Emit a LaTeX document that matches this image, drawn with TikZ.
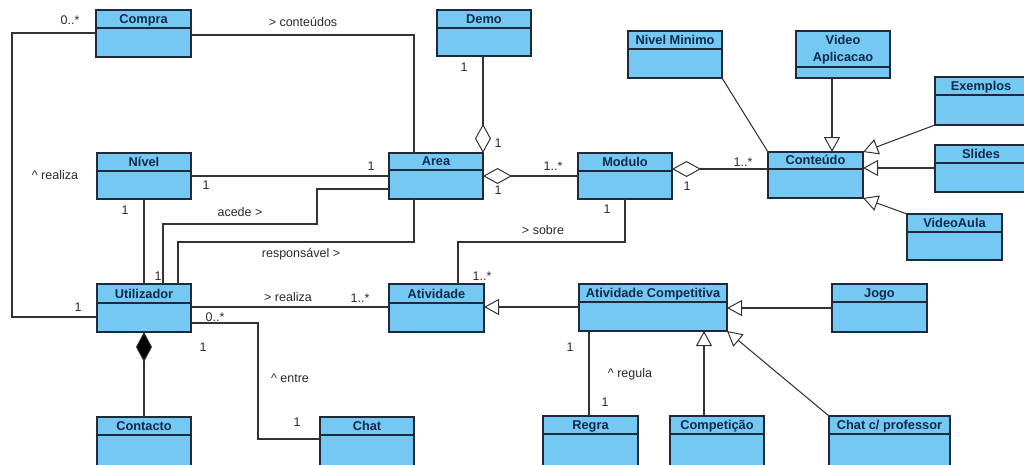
\documentclass[tikz,border=0pt]{standalone}
\usepackage{fontspec}
\setmainfont{Liberation Sans}
\usetikzlibrary{arrows.meta}

\definecolor{boxfill}{HTML}{75C8F2}
\definecolor{boxline}{HTML}{1E2A3A}
\definecolor{titletext}{HTML}{102A4C}
\definecolor{labeltext}{HTML}{2A2A2A}
\definecolor{wire}{HTML}{333333}

\tikzset{
  clsbox/.style={draw=boxline, fill=boxfill, line width=1.2pt, inner sep=0pt,
    outer sep=0pt, anchor=north west},
  divline/.style={draw=boxline, line width=1.2pt},
  clstitle/.style={font=\bfseries\fontsize{12.8}{17}\selectfont, text=titletext,
    inner sep=0pt},
  lbl/.style={font=\fontsize{12.5}{14}\selectfont, text=labeltext, inner sep=0pt},
  conn/.style={draw=wire, line width=1.05pt},
  genarrow/.style={conn, -{Triangle[length=15pt, width=16pt, fill=white, line width=1pt]}},
  aggstart/.style={conn, {Diamond[length=29pt, width=16pt, fill=white, line width=1pt]}-},
  compstart/.style={conn, {Diamond[length=30pt, width=16pt, fill=black, line width=1pt]}-},
}

% class box: name, left, top, right, bottom, divider, title
\newcommand\umlclass[7]{%
  \node[clsbox, minimum width={#4-#2}, minimum height={#5-#3}] (#1) at (#2,#3) {};
  \draw[divline] (#2,#6) -- (#4,#6);
  \node[clstitle, anchor=base] (#1-name) at ({(#2+#4)/2},{#6-4.5}) {#7};
}

\begin{document}
\begin{tikzpicture}[x=1pt,y=-1pt]
\useasboundingbox (0,0) rectangle (1024,464);
\fill[white] (0,0) rectangle (1024,464);

% ---- classes ----
\umlclass{compra}{96}{10}{191}{57}{28}{Compra}
\umlclass{demo}{437}{10}{531}{56}{28}{Demo}
\umlclass{nivmin}{628}{31}{722}{78}{49}{Nivel Minimo}
% two-line title
\node[clsbox, minimum width=94, minimum height=47] (videoapp) at (796,31) {};
\draw[divline] (796,67) -- (890,67);
\node[clstitle, align=center] (videoapp-name) at (843,50) {Video\\Aplicacao};
\umlclass{exemplos}{935}{77}{1027}{125}{95}{Exemplos}
\umlclass{slides}{935}{145}{1027}{192}{163}{Slides}
\umlclass{nivel}{97}{153}{191}{199}{171}{Nível}
\umlclass{area}{389}{153}{483}{199}{170}{Area}
\umlclass{modulo}{578}{153}{672}{199}{171}{Modulo}
\umlclass{conteudo}{768}{152}{863}{198}{169}{Conteúdo}
\umlclass{videoaula}{907}{214}{1002}{260}{232}{VideoAula}
\umlclass{utilizador}{97}{284}{191}{332}{303}{Utilizador}
\umlclass{atividade}{389}{284}{484}{332}{303}{Atividade}
\umlclass{ativcomp}{579}{284}{727}{331}{302}{Atividade Competitiva}
\umlclass{jogo}{832}{284}{927}{332}{302}{Jogo}
\umlclass{contacto}{97}{417}{191}{467}{435}{Contacto}
\umlclass{chat}{320}{417}{414}{467}{435}{Chat}
\umlclass{regra}{543}{416}{638}{467}{434}{Regra}
\umlclass{competicao}{670}{416}{764}{467}{434}{Competição}
\umlclass{chatprof}{829}{416}{950}{467}{434}{Chat c/ professor}

% ---- associations ----
\draw[conn] (compra.west |- 0,33) -| (12,317) -- (utilizador.west |- 0,317);
\draw[conn] (compra.east |- 0,35) -| (area.north -| 414,0);
\draw[aggstart] (area.north -| 483,0) -- (demo.south -| 483,0);
\draw[conn] (nivel.east |- 0,176) -- (area.west |- 0,176);
\draw[conn] (area.west |- 0,189) -| (317,224) -| (utilizador.north -| 163,0);
\draw[conn] (area.south -| 414,0) |- (178,242) -- (utilizador.north -| 178,0);
\draw[conn] (nivel.south) -- (utilizador.north);
\draw[conn] (utilizador.east |- 0,307) -- (atividade.west |- 0,307);
\draw[conn] (utilizador.east |- 0,323) -| (258,439) -- (chat.west |- 0,439);
\draw[compstart] (utilizador.south) -- (contacto.north);
\draw[aggstart] (area.east |- 0,176) -- (modulo.west |- 0,176);
\draw[conn] (modulo.south -| 625,0) |- (458,242) -- (atividade.north -| 458,0);
\draw[aggstart] (modulo.east |- 0,169) -- (conteudo.west |- 0,169);
\draw[conn] (nivmin.south east) -- (conteudo.north west);
\draw[conn] (regra.north -| 589,0) -- (ativcomp.south -| 589,0);

% ---- generalisations ----
\draw[genarrow] (videoapp.south -| 832,0) -- (conteudo.north -| 832,0);
\draw[genarrow] (exemplos.south west) -- (conteudo.north east);
\draw[genarrow] (slides.west |- 0,168) -- (conteudo.east |- 0,168);
\draw[genarrow] (videoaula.north west) -- (conteudo.south east);
\draw[genarrow] (ativcomp.west |- 0,307) -- (atividade.east |- 0,307);
\draw[genarrow] (jogo.west |- 0,308) -- (ativcomp.east |- 0,308);
\draw[genarrow] (competicao.north -| 704,0) -- (ativcomp.south -| 704,0);
\draw[genarrow] (chatprof.north west) -- (ativcomp.south east);

% ---- role names and multiplicities ----
\node[lbl] (l-compra-m) at (70,20) {0..*};
\node[lbl] (l-conteudos) at (303,22) {> conteúdos};
\node[lbl] (l-realiza1) at (55,175) {\^{} realiza};
\node[lbl] (l-util-m1) at (78,307) {1};
\node[lbl] (l-demo-m) at (464,67) {1};
\node[lbl] (l-area-m1) at (498,143) {1};
\node[lbl] (l-nivel-m) at (206,185) {1};
\node[lbl] (l-area-m2) at (371,166) {1};
\node[lbl] (l-acede) at (240,212) {acede >};
\node[lbl] (l-nivel-m2) at (125,210) {1};
\node[lbl] (l-util-m2) at (158,276) {1};
\node[lbl] (l-resp) at (301,254) {responsável >};
\node[lbl] (l-realiza2) at (288,297) {> realiza};
\node[lbl] (l-ativ-m1) at (360,298) {1..*};
\node[lbl] (l-util-m3) at (215,317) {0..*};
\node[lbl] (l-util-m4) at (203,347) {1};
\node[lbl] (l-entre) at (290,378) {\^{} entre};
\node[lbl] (l-chat-m) at (297,422) {1};
\node[lbl] (l-mod-m1) at (553,166) {1..*};
\node[lbl] (l-area-m3) at (498,190) {1};
\node[lbl] (l-mod-m2) at (687,186) {1};
\node[lbl] (l-cont-m) at (743,162) {1..*};
\node[lbl] (l-mod-m3) at (607,209) {1};
\node[lbl] (l-sobre) at (543,230) {> sobre};
\node[lbl] (l-ativ-m2) at (482,276) {1..*};
\node[lbl] (l-ac-m) at (570,347) {1};
\node[lbl] (l-regula) at (630,374) {\^{} regula};
\node[lbl] (l-regra-m) at (605,402) {1};
\end{tikzpicture}
\end{document}
